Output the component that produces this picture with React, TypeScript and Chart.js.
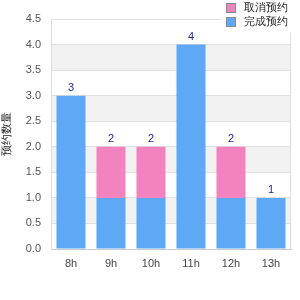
import React, { useEffect, useRef } from "react";
import { Chart, registerables } from "chart.js";

Chart.register(...registerables);

const categories = ["8h", "9h", "10h", "11h", "12h", "13h"];
const blueValues = [3, 1, 1, 4, 1, 1];
const pinkValues = [0, 1, 1, 0, 1, 0];
const blueLabel = "完成预约";
const pinkLabel = "取消预约";
const yTitle = "预约数量";
const blueColor = "#5fa8f5";
const pinkColor = "#f383bf";

const bandsPlugin = {
  id: "bands",
  beforeDraw(chart: any) {
    const { ctx, chartArea } = chart;
    const y = chart.scales.y;
    ctx.save();
    ctx.fillStyle = "#f2f2f2";
    for (let v = 0.5; v < 4.5; v += 1) {
      const top = y.getPixelForValue(v + 0.5);
      const bot = y.getPixelForValue(v);
      ctx.fillRect(chartArea.left, top, chartArea.right - chartArea.left, bot - top);
    }
    ctx.restore();
  },
};

const extrasPlugin = {
  id: "extras",
  afterDatasetsDraw(chart: any) {
    const { ctx, chartArea } = chart;
    const y = chart.scales.y;
    const meta = chart.getDatasetMeta(0);
    ctx.save();
    ctx.fillStyle = "#1f1f9f";
    ctx.font = "11px 'Liberation Sans', Arial, sans-serif";
    ctx.textAlign = "center";
    ctx.textBaseline = "bottom";
    categories.forEach((_, i) => {
      const total = blueValues[i] + pinkValues[i];
      const px = meta.data[i].x;
      const py = y.getPixelForValue(total);
      ctx.fillText(String(total), px, py - 2);
    });
    ctx.strokeStyle = "#dcdcdc";
    ctx.lineWidth = 1;
    ctx.beginPath();
    ctx.moveTo(Math.round(chartArea.right) - 0.5, chartArea.top);
    ctx.lineTo(Math.round(chartArea.right) - 0.5, chartArea.bottom);
    ctx.stroke();
    ctx.restore();
  },
  afterDraw(chart: any) {
    const { ctx } = chart;
    ctx.save();
    ctx.fillStyle = "#ffffff";
    ctx.fillRect(221, 0, 79, 33);
    const items = [
      { color: pinkColor, label: pinkLabel, y: 8 },
      { color: blueColor, label: blueLabel, y: 22 },
    ];
    ctx.font = "11px 'Liberation Sans', Arial, sans-serif";
    ctx.textAlign = "left";
    ctx.textBaseline = "middle";
    items.forEach((it) => {
      ctx.fillStyle = it.color;
      ctx.fillRect(227, it.y - 4, 8, 8);
      ctx.strokeStyle = "#888888";
      ctx.lineWidth = 1;
      ctx.strokeRect(226.5, it.y - 4.5, 9, 9);
      ctx.fillStyle = "#222222";
      ctx.fillText(it.label, 244, it.y);
    });
    ctx.restore();
  },
};

export default function App() {
  const ref = useRef<HTMLCanvasElement>(null);
  useEffect(() => {
    const chart = new Chart(ref.current!, {
      type: "bar",
      data: {
        labels: categories,
        datasets: [
          { label: blueLabel, data: blueValues, backgroundColor: blueColor, barPercentage: 0.725, categoryPercentage: 1 },
          { label: pinkLabel, data: pinkValues, backgroundColor: pinkColor, barPercentage: 0.725, categoryPercentage: 1 },
        ],
      },
      options: {
        responsive: false,
        animation: false,
        layout: { padding: { top: 19, right: 9, left: 0, bottom: 0 } },
        plugins: { legend: { display: false }, tooltip: { enabled: false } },
        scales: {
          x: {
            stacked: true,
            grid: { display: false, drawTicks: false },
            border: { display: true, color: "#cccccc" },
            ticks: { color: "#444", padding: 8, font: { family: "'Liberation Sans', Arial, sans-serif", size: 11 } },
            afterFit: (s: any) => { s.height = 51; },
          },
          y: {
            stacked: true,
            min: 0,
            max: 4.5,
            grid: { color: "#e0e0e0", drawTicks: false },
            border: { display: true, color: "#dcdcdc" },
            ticks: {
              stepSize: 0.5,
              color: "#555",
              padding: 10,
              font: { family: "'Liberation Sans', Arial, sans-serif", size: 11 },
              callback: (v: any) => Number(v).toFixed(1),
            },
            title: {
              display: true,
              text: yTitle,
              color: "#222",
              padding: 0,
              font: { family: "'Liberation Sans', Arial, sans-serif", size: 11 },
            },
            afterFit: (s: any) => { s.width = 51; },
          },
        },
      },
      plugins: [bandsPlugin, extrasPlugin],
    });
    return () => chart.destroy();
  }, []);
  return (
    <div style={{ position: "absolute", left: 0, top: 0, width: 300, height: 300, background: "#fff" }}>
      <canvas ref={ref} width={300} height={300} />
    </div>
  );
}
